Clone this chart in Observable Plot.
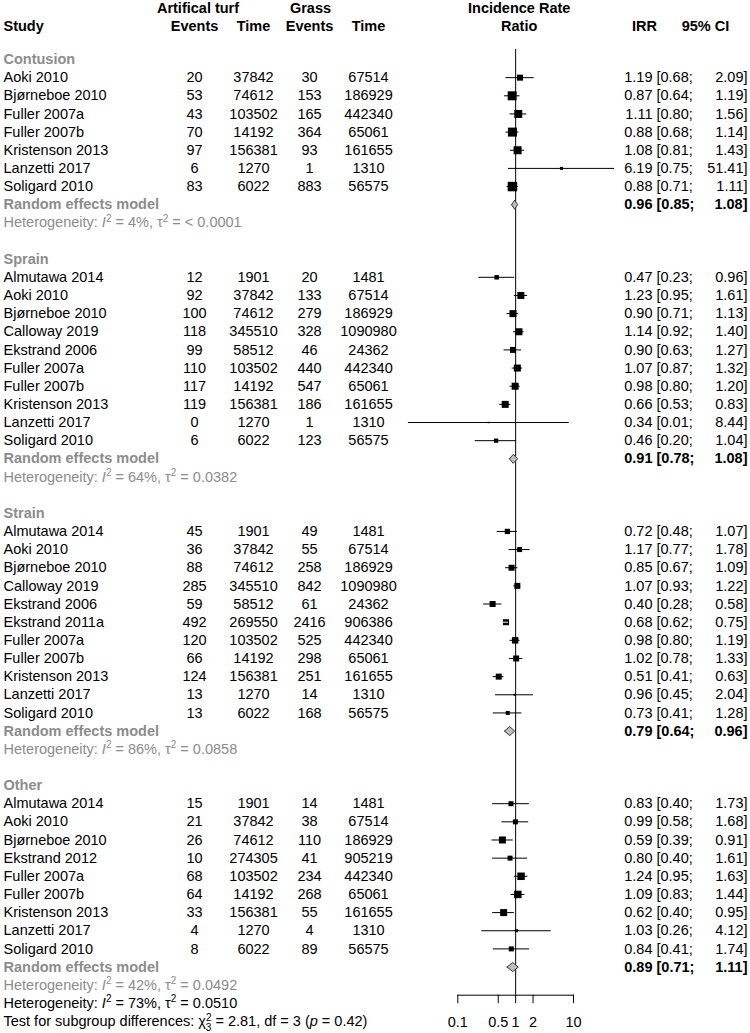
<!DOCTYPE html>
<html><head><meta charset="utf-8">
<script src="https://cdn.jsdelivr.net/npm/d3@7"></script>
<script src="https://cdn.jsdelivr.net/npm/@observablehq/plot@0.6"></script>
<style>
body{margin:0;background:#fff}
#chart{position:relative;width:750px;height:1033px}
#chart svg{position:absolute;left:0;top:0}
</style>
</head><body><div id="chart"></div>
<script>
// ---------- data ----------
const groups = ["Contusion","Sprain","Strain","Other"];
const groupSize = [7,10,11,9];
const study = ["Aoki 2010","Bjørneboe 2010","Fuller 2007a","Fuller 2007b","Kristenson 2013","Lanzetti 2017","Soligard 2010",
 "Almutawa 2014","Aoki 2010","Bjørneboe 2010","Calloway 2019","Ekstrand 2006","Fuller 2007a","Fuller 2007b","Kristenson 2013","Lanzetti 2017","Soligard 2010",
 "Almutawa 2014","Aoki 2010","Bjørneboe 2010","Calloway 2019","Ekstrand 2006","Ekstrand 2011a","Fuller 2007a","Fuller 2007b","Kristenson 2013","Lanzetti 2017","Soligard 2010",
 "Almutawa 2014","Aoki 2010","Bjørneboe 2010","Ekstrand 2012","Fuller 2007a","Fuller 2007b","Kristenson 2013","Lanzetti 2017","Soligard 2010"];
const eventsTurf = [20,53,43,70,97,6,83, 12,92,100,118,99,110,117,119,0,6, 45,36,88,285,59,492,120,66,124,13,13, 15,21,26,10,68,64,33,4,8];
const timeTurf = [37842,74612,103502,14192,156381,1270,6022, 1901,37842,74612,345510,58512,103502,14192,156381,1270,6022, 1901,37842,74612,345510,58512,269550,103502,14192,156381,1270,6022, 1901,37842,74612,274305,103502,14192,156381,1270,6022];
const eventsGrass = [30,153,165,364,93,1,883, 20,133,279,328,46,440,547,186,1,123, 49,55,258,842,61,2416,525,298,251,14,168, 14,38,110,41,234,268,55,4,89];
const timeGrass = [67514,186929,442340,65061,161655,1310,56575, 1481,67514,186929,1090980,24362,442340,65061,161655,1310,56575, 1481,67514,186929,1090980,24362,906386,442340,65061,161655,1310,56575, 1481,67514,186929,905219,442340,65061,161655,1310,56575];
const irr = [1.19,0.87,1.11,0.88,1.08,6.19,0.88, 0.47,1.23,0.90,1.14,0.90,1.07,0.98,0.66,0.34,0.46, 0.72,1.17,0.85,1.07,0.40,0.68,0.98,1.02,0.51,0.96,0.73, 0.83,0.99,0.59,0.80,1.24,1.09,0.62,1.03,0.84];
const lower = [0.68,0.64,0.80,0.68,0.81,0.75,0.71, 0.23,0.95,0.71,0.92,0.63,0.87,0.80,0.53,0.014,0.20, 0.48,0.77,0.67,0.93,0.28,0.62,0.80,0.78,0.41,0.45,0.41, 0.40,0.58,0.39,0.40,0.95,0.83,0.40,0.26,0.41];
const upper = [2.09,1.19,1.56,1.14,1.43,51.41,1.11, 0.96,1.61,1.13,1.40,1.27,1.32,1.20,0.83,8.44,1.04, 1.07,1.78,1.09,1.22,0.58,0.75,1.19,1.33,0.63,2.04,1.28, 1.73,1.68,0.91,1.61,1.63,1.44,0.95,4.12,1.74];
const weight = [36,81,64,81,64,9,90, 20,49,49,49,36,49,49,49,2,18, 28,25,36,36,36,36,42,36,36,4,16, 25,25,49,25,56,56,49,9,25];
const reIrr = [0.96,0.91,0.79,0.89];
const reLower = [0.85,0.78,0.64,0.71];
const reUpper = [1.08,1.08,0.96,1.11];
const hetI2 = ["4%","64%","86%","42%"];
const hetTau2 = ["< 0.0001","0.0382","0.0858","0.0492"];
const overallI2 = "73%", overallTau2 = "0.0510";
const testChi2 = "2.81", testDf = "3", testP = "0.42";
const axisTicks = [0.1,0.5,1,2,10];

// ---------- rows ----------
const studyRows = [], labelRows = [], reRows = [], hetRows = [];
let r = 0, k = 0;
groups.forEach((g, gi) => {
  labelRows.push({row: r, t: g}); r++;
  for (let j = 0; j < groupSize[gi]; j++, k++) {
    studyRows.push({row: r, study: study[k], eT: eventsTurf[k], tT: timeTurf[k], eG: eventsGrass[k], tG: timeGrass[k],
      irr: irr[k], lower: lower[k], upper: upper[k], weight: weight[k]});
    r++;
  }
  reRows.push({row: r, g, irr: reIrr[gi], lower: reLower[gi], upper: reUpper[gi]}); r++;
  hetRows.push({row: r, t: `Heterogeneity: I2 = ${hetI2[gi]}, τ2 = ${hetTau2[gi]}`}); r++;
  if (gi < groups.length - 1) r++;
});
const overallRow = r, testRow = r + 1;

const f2 = v => v.toFixed(2);
const FONT = "'Liberation Sans', Arial, Helvetica, sans-serif";
const FS = 14.5;
const GREY = "#8c8c8c";
const Y = {domain: [0, 53], range: [59, 1021], axis: null};

// column positions (layout)
const cx = {study: 3, eT: 194, tT: 253, eG: 309, tG: 368, irr: 652, ciL: 656, ciR: 747};
const yH1 = (8 - 59) / 18.151, yH2 = (25.5 - 59) / 18.151;

function ciMarks(data, weightName) {
  return [
    Plot.text(data, {x: cx.irr, y: "row", text: d => f2(d.irr), textAnchor: "end", fontWeight: weightName, fontSize: FS}),
    Plot.text(data, {x: cx.ciL, y: "row", text: d => `[${f2(d.lower)};`, textAnchor: "start", fontWeight: weightName, fontSize: FS}),
    Plot.text(data, {x: cx.ciR, y: "row", text: d => `${f2(d.upper)}]`, textAnchor: "end", fontWeight: weightName, fontSize: FS})
  ];
}

const table = Plot.plot({
  width: 750, height: 1033, margin: 0,
  x: {domain: [0, 750], range: [0, 750], axis: null},
  y: Y,
  style: {fontFamily: FONT, fontSize: FS + "px", background: "transparent", color: "black"},
  marks: [
    // headers
    Plot.text(["Artifical turf"], {x: 197.5, y: yH1, text: d => d, fontWeight: "bold", fontSize: FS}),
    Plot.text(["Grass"], {x: 310, y: yH1, text: d => d, fontWeight: "bold", fontSize: FS}),
    Plot.text(["Incidence Rate"], {x: 518.7, y: yH1, text: d => d, fontWeight: "bold", fontSize: FS}),
    Plot.text(["Study"], {x: cx.study, y: yH2, text: d => d, textAnchor: "start", fontWeight: "bold", fontSize: FS}),
    Plot.text(["Events"], {x: cx.eT, y: yH2, text: d => d, fontWeight: "bold", fontSize: FS}),
    Plot.text(["Time"], {x: cx.tT, y: yH2, text: d => d, fontWeight: "bold", fontSize: FS}),
    Plot.text(["Events"], {x: cx.eG, y: yH2, text: d => d, fontWeight: "bold", fontSize: FS}),
    Plot.text(["Time"], {x: cx.tG, y: yH2, text: d => d, fontWeight: "bold", fontSize: FS}),
    Plot.text(["Ratio"], {x: 518.7, y: yH2, text: d => d, fontWeight: "bold", fontSize: FS}),
    Plot.text(["IRR"], {x: 644, y: yH2, text: d => d, fontWeight: "bold", fontSize: FS}),
    Plot.text(["95% CI"], {x: 705, y: yH2, text: d => d, fontWeight: "bold", fontSize: FS}),
    // group labels
    Plot.text(labelRows, {x: cx.study, y: "row", text: "t", textAnchor: "start", fontWeight: "bold", fill: GREY, fontSize: FS}),
    // study rows
    Plot.text(studyRows, {x: cx.study, y: "row", text: "study", textAnchor: "start", fontSize: FS}),
    Plot.text(studyRows, {x: cx.eT, y: "row", text: d => String(d.eT), fontSize: FS}),
    Plot.text(studyRows, {x: cx.tT, y: "row", text: d => String(d.tT), fontSize: FS}),
    Plot.text(studyRows, {x: cx.eG, y: "row", text: d => String(d.eG), fontSize: FS}),
    Plot.text(studyRows, {x: cx.tG, y: "row", text: d => String(d.tG), fontSize: FS}),
    // RE label and heterogeneity
    Plot.text(reRows, {x: cx.study, y: "row", text: () => "Random effects model", textAnchor: "start", fontWeight: "bold", fill: GREY, fontSize: FS}),
    Plot.text(hetRows, {x: cx.study, y: "row", text: "t", textAnchor: "start", fill: GREY, fontSize: FS}),
    Plot.text([`Heterogeneity: I2 = ${overallI2}, τ2 = ${overallTau2}`], {x: cx.study, y: overallRow, text: d => d, textAnchor: "start", fontSize: FS}),
    Plot.text([`Test for subgroup differences: CHI = ${testChi2}, df = ${testDf} (p = ${testP})`], {x: cx.study, y: testRow, text: d => d, textAnchor: "start", fontSize: FS}),
    // IRR + CI
    ...ciMarks(studyRows, "normal"),
    ...ciMarks(reRows, "bold")
  ]
});

// rich text post-processing (italic I, superscripts, subscripts)
function rich(el, parts) {
  const t = d3.select(el); t.text("");
  parts.forEach(p => {
    const s = t.append("tspan").text(p.t);
    if (p.i) s.attr("font-style", "italic");
    if (p.s) s.attr("font-size", p.s);
    if (p.dy != null) s.attr("dy", p.dy);
    if (p.dx != null) s.attr("dx", p.dx);
  });
}
d3.select(table).selectAll("text").each(function() {
  const s = this.textContent;
  let m = s.match(/^Heterogeneity: I2 = (.+), τ2 = (.+)$/);
  if (m) {
    rich(this, [{t: "Heterogeneity: "}, {t: "I", i: true}, {t: "2", s: "10px", dy: -5.5}, {t: ` = ${m[1]}, τ`, dy: 5.5},
      {t: "2", s: "10px", dy: -5.5}, {t: ` = ${m[2]}`, dy: 5.5}]);
    return;
  }
  m = s.match(/^Test for subgroup differences: CHI = (.+), df = (.+) \(p = (.+)\)$/);
  if (m) {
    rich(this, [{t: "Test for subgroup differences: χ"}, {t: "2", s: "10px", dy: -5.5}, {t: testDf, s: "10px", dx: -5.6, dy: 10},
      {t: ` = ${m[1]}, df = ${m[2]} (`, dy: -4.5}, {t: "p", i: true}, {t: ` = ${m[3]})`}]);
  }
});

const diamondPts = reRows.flatMap(d => [
  {g: d.g, x: d.lower, y: d.row}, {g: d.g, x: d.irr, y: d.row - 0.25},
  {g: d.g, x: d.upper, y: d.row}, {g: d.g, x: d.irr, y: d.row + 0.25},
  {g: d.g, x: d.lower, y: d.row}
]);

const forest = Plot.plot({
  width: 750, height: 1033,
  marginLeft: 457.3, marginRight: 177, marginTop: 49, marginBottom: 38.3,
  x: {type: "log", domain: [0.1, 10]},
  y: Y,
  r: {domain: [0, 100], range: [0, 5.64]},
  style: {fontFamily: FONT, fontSize: FS + "px", background: "transparent", color: "black", overflow: "visible"},
  marks: [
    Plot.frame({anchor: "bottom", stroke: "black"}),
    Plot.ruleX([1], {stroke: "black"}),
    Plot.ruleY(studyRows, {x1: "lower", x2: "upper", y: "row", stroke: "black", strokeWidth: 1}),
    Plot.dot(studyRows, {x: "irr", y: "row", r: "weight", symbol: "square", fill: "black"}),
    Plot.ruleY(studyRows.filter(d => d.upper / d.lower < 1.25), {x1: "lower", x2: "upper", y: "row", stroke: "white", strokeWidth: 1}),
    Plot.line(diamondPts, {x: "x", y: "y", z: "g", fill: "#bebebe", stroke: "#333", strokeWidth: 1, curve: "linear"}),
    Plot.axisX({ticks: axisTicks, tickFormat: d => `${d}`, tickSize: 8.5, tickPadding: 13, anchor: "bottom", fontSize: FS, label: null})
  ]
});

const chart = document.getElementById("chart");
chart.appendChild(forest);
chart.appendChild(table);
</script>
</body></html>
